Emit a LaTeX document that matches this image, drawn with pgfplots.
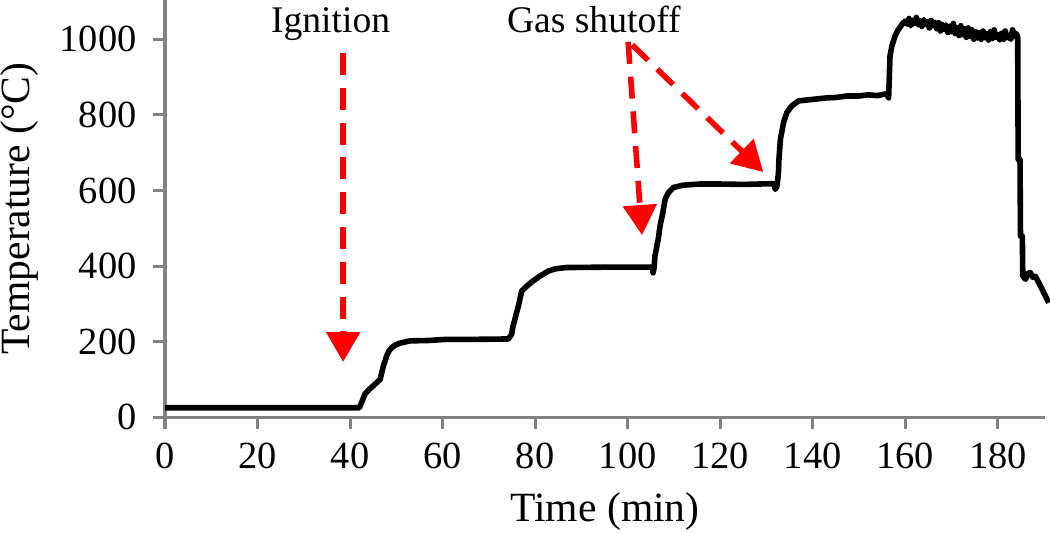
\documentclass[border=0pt]{standalone}
\usepackage{fontspec}
\setmainfont{Liberation Serif}
\usepackage{pgfplots}
\pgfplotsset{compat=1.18}
\usetikzlibrary{arrows.meta}
\definecolor{axgray}{RGB}{130,130,130}
\newcommand{\fs}{\fontsize{10.4}{12}\selectfont}
\newcommand{\ft}{\fontsize{9.6}{11}\selectfont}
\newcommand{\fa}{\fontsize{9.4}{11}\selectfont}
\begin{document}
\begin{tikzpicture}
\begin{axis}[
  name=ax,
  scale only axis,
  width=220pt, height=104.3pt,
  xmin=0, xmax=190.2, ymin=0, ymax=1104,
  axis x line*=bottom, axis y line*=left,
  axis line style={axgray, line width=0.75pt, -},
  tick style={axgray, line width=0.75pt},
  major tick length=3pt,
  tick align=outside,
  xtick={0,20,...,180}, ytick={0,200,...,1000},
  /pgf/number format/assume math mode=true,
  /pgf/number format/1000 sep={},
  tick label style={font=\ft},
  label style={font=\fs},
  xlabel={Time (min)}, ylabel={Temperature (°C)},
  xlabel style={at={(axis description cs:0.5,-0.251)}, anchor=base},
  ylabel style={at={(axis description cs:-0.165,0.5)}, anchor=center},
  yticklabel style={xshift=-0.6pt},
  clip=false,
]
\addplot[black, line width=1.4pt, line join=round] coordinates {
(0,25) (42,25) (42.2,30) (42.7,45) (43.2,61) (44,72) (45,83) (45.8,92) (46.5,100)
(46.9,120) (47.2,136) (47.6,150) (47.9,162) (48.4,175) (49,184) (49.8,191) (50.8,196)
(53,202) (57,203) (60.9,206) (67,206) (74.2,207)
(74.9,219) (75.2,240) (75.6,258) (76,277) (76.4,295) (76.7,312) (77.1,334) (78.2,347)
(79.6,361) (81,373) (82.9,387) (84.5,393) (86.8,396) (95,397) (105.3,397)
(105.5,382) (105.7,395) (105.9,427) (106.6,471) (107,506) (107.6,541) (108.1,577)
(108.8,594) (109.9,608) (112,614) (115.6,617) (120,617) (125,616) (131.6,618)
(131.9,603) (132.3,612) (132.6,650) (132.7,683) (133,735) (133.7,780) (134.4,806)
(135.5,824) (136.9,837) (140,841) (143,845) (145,846) (147.4,850) (150,850)
(152,853) (154,851) (156,856) (156.4,845) (156.7,956) (157.1,982) (157.8,1009)
(158.5,1026) (159.6,1044)
(160.0,1048) (160.4,1040) (160.8,1055) (161.2,1036) (161.6,1050) (162.0,1042)
(162.4,1058) (162.8,1038) (163.2,1049) (163.6,1034) (164.0,1052) (164.4,1040)
(164.8,1047) (165.2,1030) (165.6,1050) (166.0,1036) (166.4,1045) (166.8,1028)
(167.2,1044) (167.6,1022) (168.0,1040) (168.4,1026) (168.8,1038) (169.2,1018)
(169.6,1035) (170.0,1020) (170.4,1042) (170.8,1015) (171.2,1030) (171.6,1010)
(172.0,1036) (172.4,1012) (172.8,1028) (173.2,1005) (173.6,1030) (174.0,1008)
(174.4,1025) (174.8,1000) (175.2,1020) (175.6,1003) (176.0,1018) (176.4,1000)
(176.8,1022) (177.2,1004) (177.6,1015) (178.0,998) (178.4,1020) (178.8,1002)
(179.2,1025) (179.6,1005) (180.0,1012) (180.4,998) (180.8,1016) (181.2,1000)
(181.6,1022) (182.0,1004) (182.4,1010) (182.8,1000) (183.2,1025) (183.6,1008)
(184.0,1015) (184.3,1005)
(184.4,682) (184.8,682) (184.9,479) (185.3,479) (185.4,373) (186,365) (186.5,380)
(187,383) (187.6,370) (188.1,373) (188.8,357) (189.3,345) (189.9,330) (190.4,318) (191,303)
};
\draw[red, line width=1.4pt, dash pattern=on 5.5pt off 3.2pt, -{Triangle[width=8.25pt,length=7.5pt]}]
  (axis cs:38.5,964) -- (axis cs:38.5,146);
\draw[red, line width=1.4pt, dash pattern=on 5.5pt off 3.2pt, -{Triangle[width=8.25pt,length=7.5pt]}]
  (axis cs:100.1,993) -- (axis cs:103.1,482);
\draw[red, line width=1.4pt, dash pattern=on 5.5pt off 3.2pt, -{Triangle[width=8.25pt,length=7.5pt]}]
  (axis cs:101,985) -- (axis cs:129.3,649);
\node[font=\fa, anchor=base] at (axis cs:35.8,1017) {Ignition};
\node[font=\fa, anchor=base] at (axis cs:92.7,1019) {Gas shutoff};
\end{axis}
\pgfresetboundingbox
\path ([shift={(-41.25pt,-28.9pt)}]ax.south west) rectangle ([shift={(1.25pt,0pt)}]ax.north east);
\end{tikzpicture}
\end{document}
